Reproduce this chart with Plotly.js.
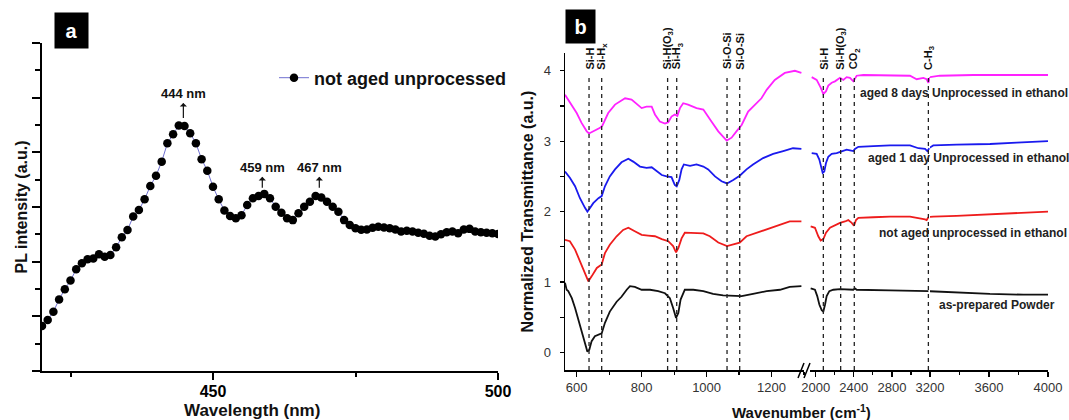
<!DOCTYPE html>
<html><head><meta charset="utf-8">
<script src="https://cdn.plot.ly/plotly-3.0.1.min.js"></script>
<style>html,body{margin:0;padding:0;background:#fff;} #chart{width:1069px;height:420px;}</style>
</head><body><div id="chart"></div>
<script>
const W = 1069, H = 420;
const px = x => x / W, py = y => 1 - y / H;
const FONT = 'Liberation Sans, Arial, sans-serif';

// ---------- Panel a data ----------
const wavelength = [420,421,422,423,424,425,426,427,428,429,430,431,432,433,434,435,436,437,438,439,440,
  441,442,443,444,445,446,447,448,449,450,451,452,453,454,455,456,457,458,459,460,
  461,462,463,464,465,466,467,468,469,470,471,472,473,474,475,476,477,478,479,480,
  481,482,483,484,485,486,487,488,489,490,491,492,493,494,495,496,497,498,499,500];
const plIntensity = [1.65,1.87,2.17,2.62,2.99,3.31,3.72,3.94,4.09,4.12,4.27,4.18,4.24,4.53,4.89,5.16,5.65,5.89,6.28,6.77,7.14,
  7.66,8.33,8.66,8.98,8.96,8.70,8.33,7.75,7.33,6.74,6.28,5.87,5.67,5.59,5.70,6.07,6.32,6.40,6.48,6.32,
  6.01,5.79,5.59,5.52,5.77,6.01,6.19,6.40,6.35,6.19,6.01,5.83,5.52,5.34,5.22,5.17,5.18,5.24,5.28,5.25,
  5.22,5.18,5.10,5.13,5.10,5.06,5.02,4.95,4.92,5.00,5.08,5.10,5.04,5.18,5.20,5.10,5.08,5.06,5.04,5.01];
const legendName = 'not aged unprocessed';
const peakText = ['444 nm', '459 nm', '467 nm'];
const peakArrowX = [444.8, 458.65, 468.65];
const peakArrowTailY = [9.26, 6.7, 6.7];
const peakTextOffset = [-24, -20, -20];

// ---------- Panel b data ----------
const sampleNames = ['aged 8 days Unprocessed in ethanol', 'aged 1 day Unprocessed in ethanol',
  'not aged unprocessed in ethanol', 'as-prepared Powder'];
const sampleColors = ['#ff22ff', '#1a1aee', '#ee1c1c', '#111111'];

const magWL = [564,574,585,600,615,631,638,651,672,679,697,718,749,769,800,815,831,841,856,872,882,892,902,910,918,928,943,969,990,1015,1036,1062,1077,1092,1108,1128,1149,1169,1185,1210,1241,1272,1292];
const magVL = [3.66,3.59,3.52,3.40,3.26,3.14,3.11,3.14,3.19,3.22,3.40,3.52,3.61,3.59,3.47,3.49,3.49,3.38,3.28,3.25,3.27,3.35,3.38,3.36,3.47,3.54,3.52,3.47,3.45,3.28,3.14,3.01,3.05,3.14,3.23,3.42,3.52,3.61,3.73,3.87,3.97,4.00,3.97];
const magWR = [1958,2010,2052,2080,2108,2132,2168,2202,2255,2290,2325,2360,2395,2412,2430,2500,2780,2990,3060,3130,3165,3183,3200,3268,3494,3833,4000];
const magVR = [3.91,3.87,3.76,3.67,3.71,3.79,3.83,3.85,3.90,3.87,3.91,3.90,3.85,3.90,3.93,3.94,3.94,3.93,3.88,3.90,3.88,3.83,3.91,3.93,3.94,3.94,3.94];

const bluWL = [564,579,595,610,626,633,641,651,667,677,687,702,718,738,759,774,795,815,831,846,862,877,892,902,908,916,923,930,949,969,990,1005,1026,1046,1063,1082,1102,1123,1143,1174,1205,1236,1266,1292];
const bluVL = [2.57,2.48,2.36,2.19,2.05,2.00,2.05,2.12,2.19,2.22,2.36,2.50,2.60,2.70,2.75,2.71,2.64,2.62,2.63,2.57,2.52,2.50,2.49,2.38,2.36,2.45,2.60,2.67,2.65,2.67,2.64,2.60,2.50,2.43,2.40,2.45,2.51,2.60,2.67,2.76,2.82,2.86,2.90,2.89];
const bluWR = [1958,2010,2038,2056,2073,2090,2108,2132,2168,2220,2273,2325,2360,2395,2412,2448,2605,2780,2990,3078,3148,3172,3193,3223,3381,3607,3788,4000];
const bluVR = [2.83,2.82,2.74,2.62,2.55,2.57,2.69,2.78,2.82,2.83,2.86,2.88,2.87,2.86,2.89,2.92,2.93,2.94,2.94,2.90,2.89,2.86,2.90,2.94,2.95,2.96,2.98,3.00];

const redWL = [564,579,595,610,626,636,646,662,677,687,702,723,743,759,779,800,820,841,862,882,897,906,913,923,933,959,990,1010,1036,1063,1082,1102,1123,1154,1185,1215,1256,1292];
const redVL = [1.60,1.58,1.46,1.29,1.10,1.01,1.08,1.20,1.25,1.41,1.53,1.65,1.74,1.77,1.72,1.67,1.66,1.65,1.61,1.58,1.51,1.42,1.48,1.62,1.70,1.70,1.69,1.65,1.56,1.51,1.53,1.56,1.65,1.70,1.75,1.80,1.86,1.86];
const redWR = [1947,1992,2027,2052,2080,2108,2150,2202,2255,2307,2342,2378,2402,2423,2448,2605,2780,2990,3095,3148,3165,3183,3223,3381,3607,3833,4000];
const redVR = [1.79,1.77,1.65,1.59,1.61,1.70,1.77,1.81,1.84,1.86,1.88,1.84,1.80,1.88,1.91,1.92,1.93,1.93,1.91,1.89,1.88,1.92,1.93,1.94,1.96,1.98,2.00];

const blkWL = [564,569,574,585,595,605,615,626,633,639,646,656,667,677,687,702,723,738,754,764,779,800,826,851,872,887,897,906,913,920,933,959,990,1020,1051,1082,1108,1143,1185,1226,1256,1292];
const blkVL = [0.99,0.89,0.87,0.77,0.63,0.46,0.28,0.11,0.01,0.04,0.16,0.23,0.25,0.27,0.42,0.58,0.72,0.79,0.89,0.94,0.93,0.89,0.89,0.87,0.84,0.77,0.63,0.49,0.56,0.75,0.89,0.89,0.87,0.83,0.81,0.80,0.80,0.83,0.87,0.89,0.93,0.94];
const blkWR = [1947,1992,2016,2038,2063,2080,2098,2115,2143,2185,2255,2342,2395,2412,2430,2780,3130,3183,3381,3607,3833,4000];
const blkVR = [0.91,0.89,0.80,0.68,0.60,0.58,0.68,0.80,0.87,0.89,0.90,0.89,0.89,0.91,0.89,0.88,0.87,0.87,0.85,0.83,0.82,0.82];

const bandNamesL = ['Si-H', 'Si-H<sub>x</sub>', 'Si-H(O<sub>3</sub>)', 'Si-H<sub>3</sub>', 'Si-O-Si', 'Si-O-Si'];
const bandPosL = [638, 677, 880, 908, 1063, 1102];
const bandNamesR = ['Si-H', 'Si-H(O<sub>3</sub>)', 'CO<sub>2</sub>', 'C-H<sub>3</sub>'];
const bandPosR = [2080, 2262, 2405, 3183];

const seriesL = [[magWL, magVL], [bluWL, bluVL], [redWL, redVL], [blkWL, blkVL]];
const seriesR = [[magWR, magVR], [bluWR, bluVR], [redWR, redVR], [blkWR, blkVR]];
const BREAK2 = 3200;

// ---------- traces ----------
const traces = [{
  x: wavelength, y: plIntensity, xaxis: 'x', yaxis: 'y', type: 'scatter', mode: 'lines+markers',
  name: legendName, line: {color: '#6f6fd0', width: 1},
  marker: {color: '#000', size: 8.5}, showlegend: true
}];
seriesL.forEach((s, i) => {
  traces.push({x: s[0], y: s[1], xaxis: 'x2', yaxis: 'y2', type: 'scatter', mode: 'lines',
    line: {color: sampleColors[i], width: 1.8}, showlegend: false, name: sampleNames[i]});
});
seriesR.forEach((s, i) => {
  const a = [], b = [], c = [], d = [];
  s[0].forEach((w, k) => {
    if (w <= BREAK2) { a.push(w); b.push(s[1][k]); }
    if (w >= BREAK2 || (k + 1 < s[0].length && s[0][k + 1] > BREAK2 && w < BREAK2)) { c.push(w); d.push(s[1][k]); }
  });
  traces.push({x: a, y: b, xaxis: 'x3', yaxis: 'y2', type: 'scatter', mode: 'lines',
    line: {color: sampleColors[i], width: 1.8}, showlegend: false, name: sampleNames[i]});
  traces.push({x: c, y: d, xaxis: 'x4', yaxis: 'y2', type: 'scatter', mode: 'lines',
    line: {color: sampleColors[i], width: 1.8}, showlegend: false, name: sampleNames[i]});
});

// ---------- annotations & shapes ----------
const ann = [];
const shapes = [];
peakText.forEach((t, i) => {
  ann.push({xref: 'x', yref: 'y', x: peakArrowX[i], y: peakArrowTailY[i], text: t, showarrow: true,
    ax: 0, ay: peakTextOffset[i], arrowside: 'start', arrowhead: 2, arrowsize: 1, arrowwidth: 1.2,
    arrowcolor: '#111', standoff: 0, startstandoff: 0,
    font: {family: FONT, size: 13, weight: 'bold', color: '#111'}});
});
// panel tags
ann.push({xref: 'paper', yref: 'paper', x: px(71.5), y: py(30.5), xanchor: 'center', yanchor: 'middle',
  text: 'a', showarrow: false, width: 33, height: 35, bgcolor: '#000', borderpad: 0,
  font: {family: FONT, size: 20, weight: 'bold', color: '#fff'}});
ann.push({xref: 'paper', yref: 'paper', x: px(580.5), y: py(26.5), xanchor: 'center', yanchor: 'middle',
  text: 'b', showarrow: false, width: 29, height: 33, bgcolor: '#000', borderpad: 0,
  font: {family: FONT, size: 20, weight: 'bold', color: '#fff'}});
// x titles
ann.push({xref: 'paper', yref: 'paper', x: px(252), y: py(410), xanchor: 'center', yanchor: 'middle',
  text: 'Wavelength (nm)', showarrow: false,
  font: {family: FONT, size: 17, weight: 'bold', color: '#111'}});
ann.push({xref: 'paper', yref: 'paper', x: px(801), y: py(411), xanchor: 'center', yanchor: 'middle',
  text: 'Wavenumber (cm<sup>-1</sup>)', showarrow: false,
  font: {family: FONT, size: 15, weight: 'bold', color: '#111'}});
// band markers
const bandTop = 3.95;
bandPosL.forEach((p, i) => {
  shapes.push({type: 'line', xref: 'x2', yref: 'y2', x0: p, x1: p, y0: -0.25, y1: bandTop,
    line: {color: '#222', width: 1.3, dash: '4px,4px'}});
  ann.push({xref: 'x2', yref: 'y2', x: p, y: 3.99, text: bandNamesL[i], textangle: -90, yanchor: 'bottom', xanchor: 'center',
    showarrow: false, font: {family: FONT, size: 11, weight: 'bold', color: '#111'}});
});
bandPosR.forEach((p, i) => {
  shapes.push({type: 'line', xref: 'x3', yref: 'y2', x0: p, x1: p, y0: -0.25, y1: bandTop,
    line: {color: '#222', width: 1.3, dash: '4px,4px'}});
  ann.push({xref: 'x3', yref: 'y2', x: p, y: 3.99, text: bandNamesR[i], textangle: -90, yanchor: 'bottom', xanchor: 'center',
    showarrow: false, font: {family: FONT, size: 11, weight: 'bold', color: '#111'}});
});
// sample labels
const labelPos = [[858, 93], [866, 158], [877, 233], [937, 305]];
sampleNames.forEach((n, i) => {
  ann.push({xref: 'paper', yref: 'paper', x: px(labelPos[i][0]), y: py(labelPos[i][1]), xanchor: 'left', yanchor: 'middle',
    text: n, showarrow: false, font: {family: FONT, size: 12, weight: 'bold', color: '#222'}});
});
// axis break marks
[[798, 804], [804, 810]].forEach(b => {
  shapes.push({type: 'line', xref: 'paper', yref: 'paper', x0: px(b[0]), y0: py(378), x1: px(b[1]), y1: py(363),
    line: {color: '#000', width: 1.5}});
});

const tfA = {family: FONT, size: 16, weight: 'bold', color: '#000'};
const tfB = {family: FONT, size: 13, color: '#333'};
const xb = {showline: true, linecolor: '#000', linewidth: 1.5, ticks: 'outside', ticklen: 5, tickwidth: 1.2,
  tickcolor: '#000', showgrid: false, zeroline: false, tickfont: tfB, anchor: 'y2', ticklabelstandoff: 0};

const layout = {
  width: W, height: H, margin: {l: 0, r: 0, t: 0, b: 0},
  paper_bgcolor: '#fff', plot_bgcolor: 'rgba(0,0,0,0)',
  font: {family: FONT},
  showlegend: true,
  legend: {x: px(274), y: py(78), xanchor: 'left', yanchor: 'middle', bgcolor: 'rgba(0,0,0,0)',
    font: {family: FONT, size: 18, weight: 'bold', color: '#111'}},
  xaxis: {domain: [px(42), px(498)], range: [420, 500], anchor: 'y', showline: true, linecolor: '#000', linewidth: 2,
    ticks: 'outside', ticklen: 7, tickwidth: 2, tickcolor: '#000', tick0: 400, dtick: 50,
    minor: {dtick: 25, tick0: 400, ticks: 'outside', ticklen: 4, tickwidth: 2, tickcolor: '#000'},
    showgrid: false, zeroline: false, tickfont: tfA, ticklabelstandoff: -2},
  yaxis: {domain: [py(371), py(43)], range: [0, 12], anchor: 'x', showline: true, linecolor: '#000', linewidth: 2,
    ticks: 'outside', ticklen: 8, tickwidth: 2, tickcolor: '#000', tick0: 0, dtick: 2, showticklabels: false,
    minor: {dtick: 1, ticks: 'outside', ticklen: 5, tickwidth: 2, tickcolor: '#000'},
    showgrid: false, zeroline: false,
    title: {text: 'PL intensity (a.u.)', font: {family: FONT, size: 16, weight: 'bold', color: '#111'}, standoff: 0}},
  xaxis2: Object.assign({}, xb, {domain: [px(565), px(804)], range: [564, 1300], tick0: 0, dtick: 200,
    minor: {dtick: 100, ticks: 'outside', ticklen: 3, tickwidth: 1.2, tickcolor: '#000'}}),
  xaxis3: Object.assign({}, xb, {domain: [px(810), px(930)], range: [1940, 3200], tick0: 0, dtick: 400,
    minor: {dtick: 200, ticks: 'outside', ticklen: 3, tickwidth: 1.2, tickcolor: '#000'}}),
  xaxis4: Object.assign({}, xb, {domain: [px(930), px(1048)], range: [3201, 4000], tick0: 0, dtick: 400,
    minor: {dtick: 200, ticks: 'outside', ticklen: 3, tickwidth: 1.2, tickcolor: '#000'}}),
  yaxis2: {domain: [py(370), py(53.2)], range: [-0.25, 4.25], anchor: 'x2', showline: true, linecolor: '#000', linewidth: 1.5,
    ticks: 'outside', ticklen: 4, tickwidth: 1.2, tickcolor: '#000', tick0: 0, dtick: 1,
    minor: {dtick: 0.5, ticks: 'outside', ticklen: 4, tickwidth: 1.2, tickcolor: '#000'},
    showgrid: false, zeroline: false, tickfont: tfB, ticklabelstandoff: 6,
    title: {text: 'Normalized Transmittance (a.u.)', font: {family: FONT, size: 16, weight: 'bold', color: '#111'}, standoff: 6}},
  annotations: ann,
  shapes: shapes
};

Plotly.newPlot('chart', traces, layout, {displayModeBar: false, staticPlot: true});
</script></body></html>
